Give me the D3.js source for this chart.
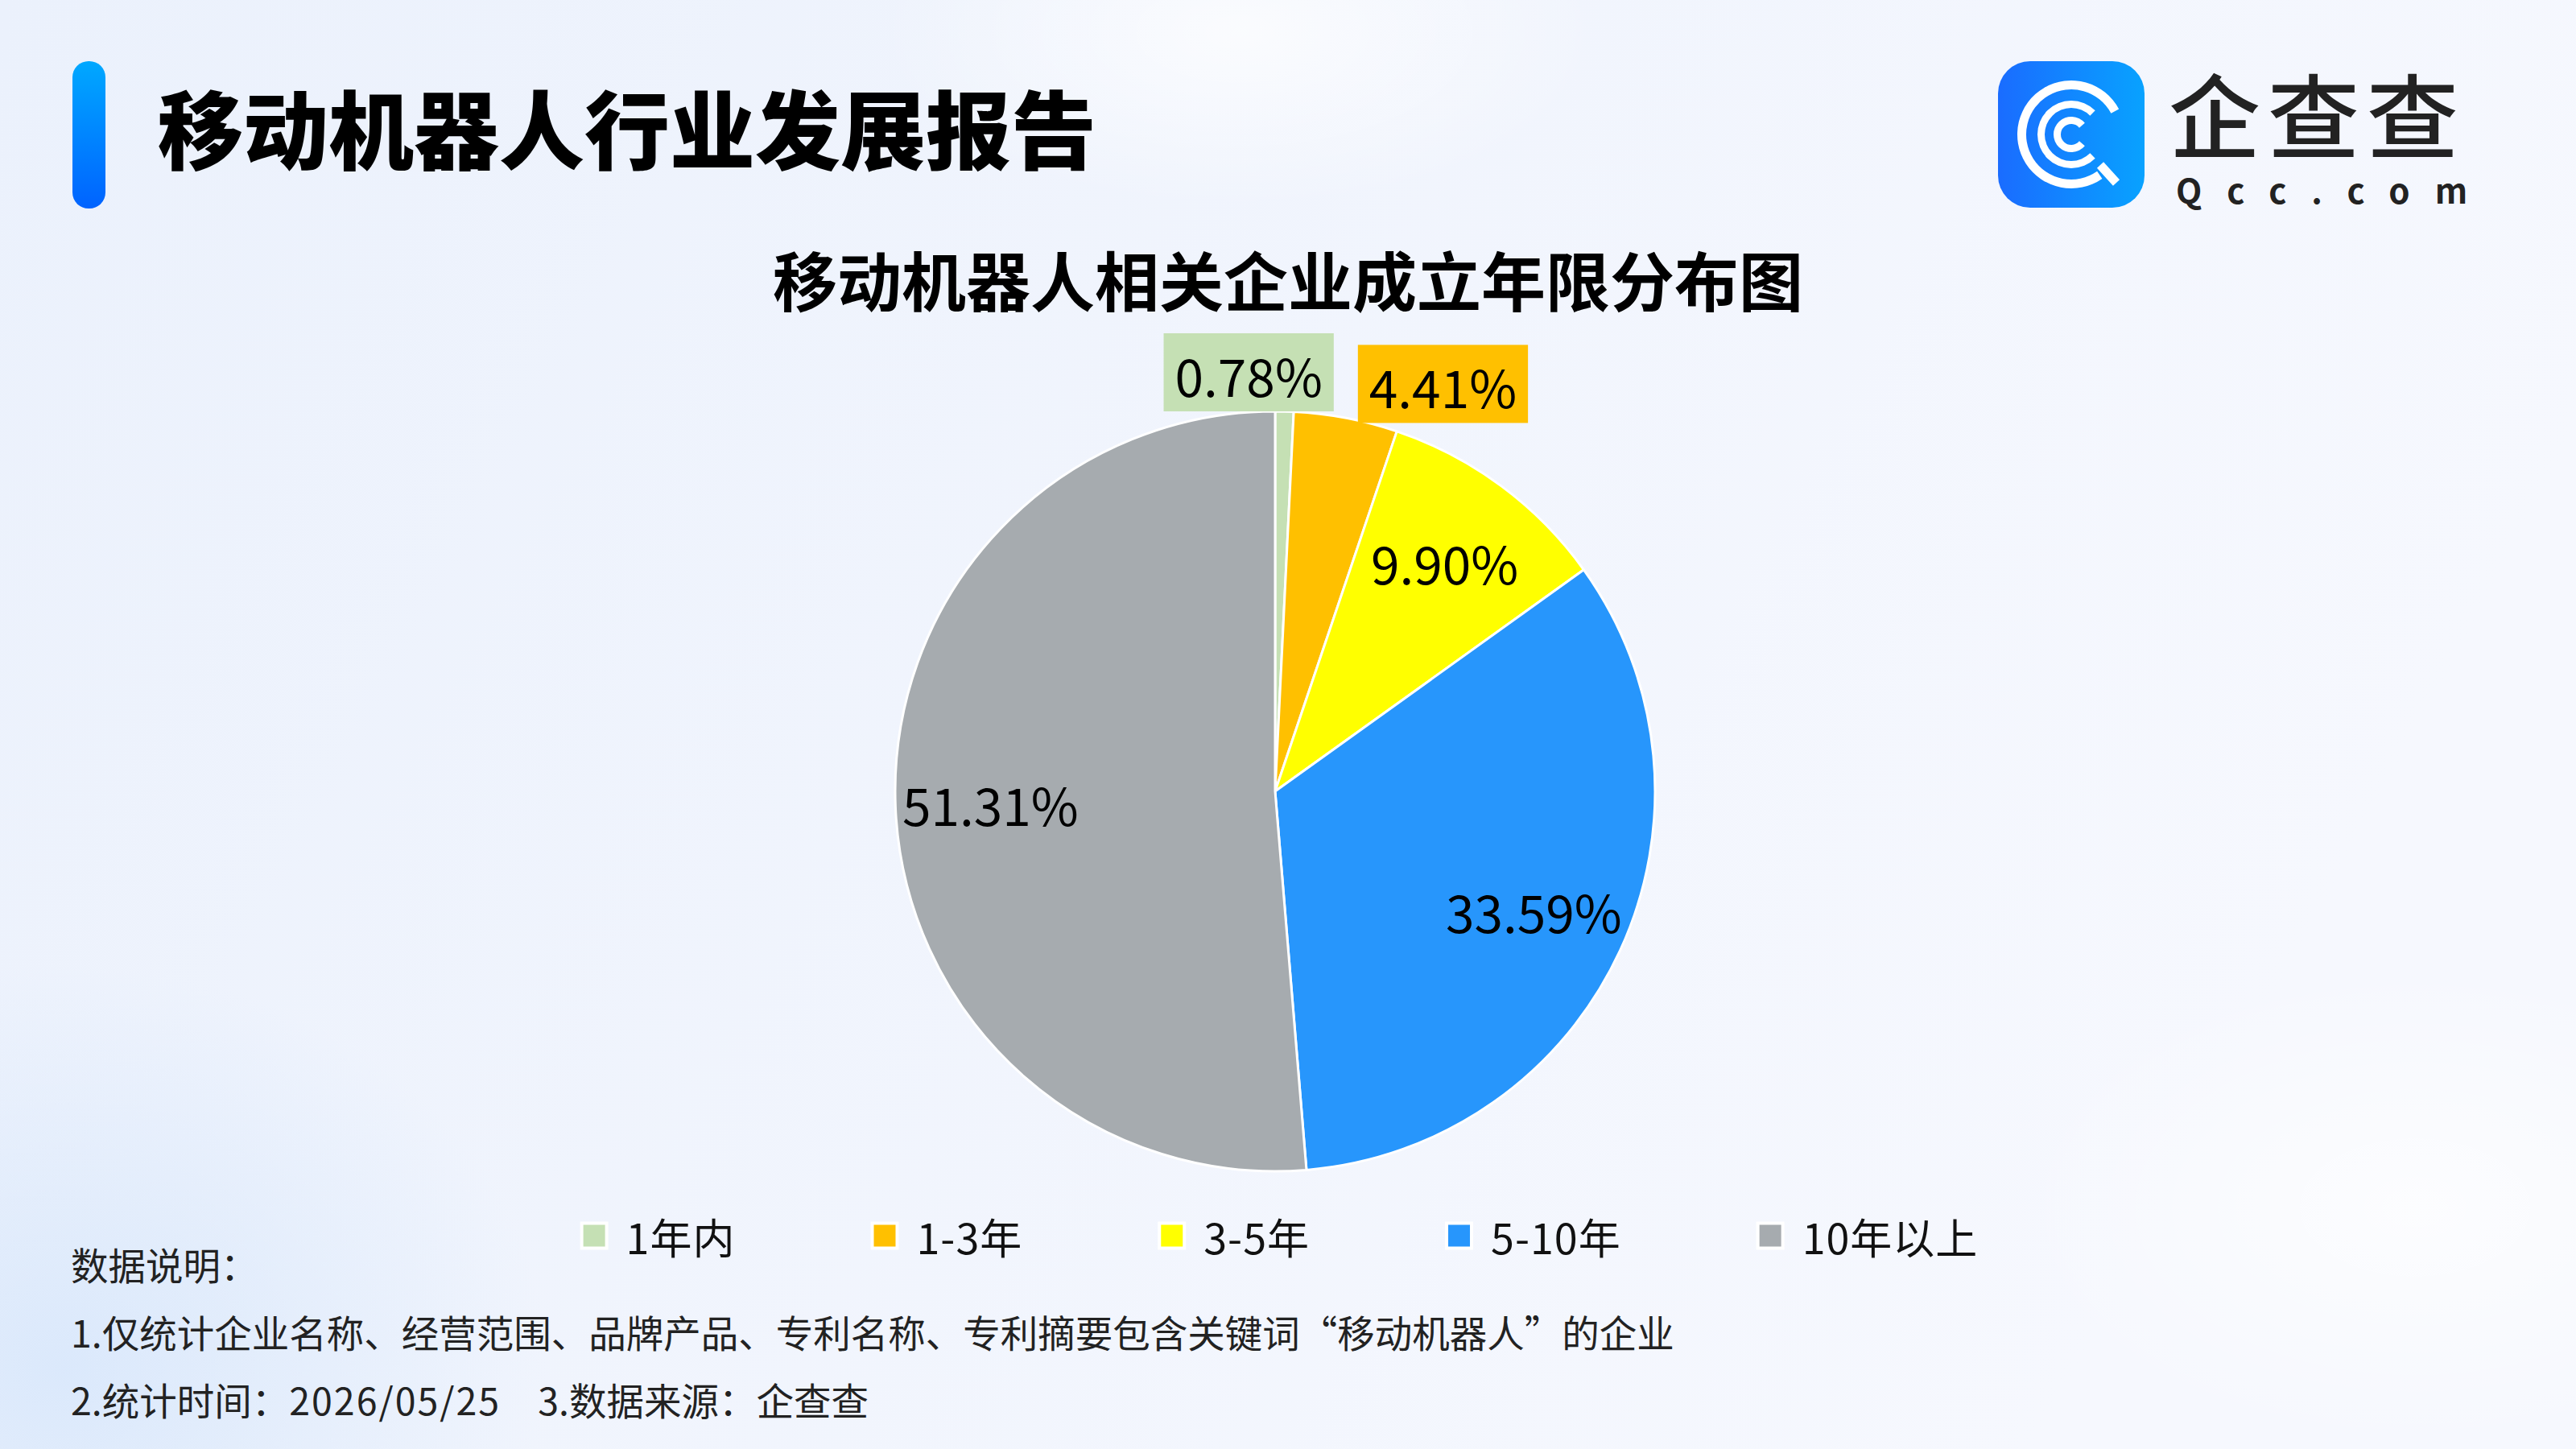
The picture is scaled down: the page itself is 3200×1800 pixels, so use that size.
<!DOCTYPE html>
<html>
<head>
<meta charset="utf-8">
<title>移动机器人相关企业成立年限分布图</title>
<script src="https://d3js.org/d3.v7.min.js"></script>
<style>
  html, body { margin: 0; padding: 0; }
  body { width: 3200px; height: 1800px; overflow: hidden; }
  text { font-family: "Noto Sans CJK SC", "Noto Sans", sans-serif; }
</style>
</head>
<body>
<div id="chart"></div>
<script>
// 数据
const categories = ["1年内", "1-3年", "3-5年", "5-10年", "10年以上"];
const shares = [0.78, 4.41, 9.90, 33.59, 51.31];
const colors = ["#c5e0b4", "#ffc000", "#ffff00", "#2796fc", "#a6abaf"];
const notes = [
  "数据说明：",
  "1.仅统计企业名称、经营范围、品牌产品、专利名称、专利摘要包含关键词“移动机器人”的企业"
];
const footDateLabel = "2.统计时间：";
const footDate = "2026/05/25";
const footSource = "3.数据来源：企查查";

const W = 3200, H = 1800;
const svg = d3.select("#chart").append("svg")
  .attr("width", W).attr("height", H);

// 背景
const defs = svg.append("defs");
const bg = defs.append("linearGradient").attr("id", "bg")
  .attr("x1", 0).attr("y1", 0).attr("x2", 1).attr("y2", 0.3);
bg.append("stop").attr("offset", 0).attr("stop-color", "#ebf1fc");
bg.append("stop").attr("offset", 1).attr("stop-color", "#f6f8fe");
const blob = defs.append("radialGradient").attr("id", "blob");
blob.append("stop").attr("offset", 0).attr("stop-color", "#ffffff").attr("stop-opacity", 0.7);
blob.append("stop").attr("offset", 1).attr("stop-color", "#ffffff").attr("stop-opacity", 0);
const blueBlob = defs.append("radialGradient").attr("id", "blueBlob");
blueBlob.append("stop").attr("offset", 0).attr("stop-color", "#d6e6fb").attr("stop-opacity", 0.8);
blueBlob.append("stop").attr("offset", 1).attr("stop-color", "#d6e6fb").attr("stop-opacity", 0);

svg.append("rect").attr("width", W).attr("height", H).attr("fill", "url(#bg)");
svg.append("ellipse").attr("cx", 1540).attr("cy", 40).attr("rx", 450).attr("ry", 220).attr("fill", "url(#blob)");
svg.append("ellipse").attr("cx", 80).attr("cy", 1700).attr("rx", 600).attr("ry", 500).attr("fill", "url(#blueBlob)");
svg.append("ellipse").attr("cx", 3000).attr("cy", 1500).attr("rx", 500).attr("ry", 300).attr("fill", "url(#blob)");

// 标题
const bar = defs.append("linearGradient").attr("id", "bar")
  .attr("x1", 0).attr("y1", 0).attr("x2", 0).attr("y2", 1);
bar.append("stop").attr("offset", 0).attr("stop-color", "#00a8ff");
bar.append("stop").attr("offset", 1).attr("stop-color", "#0063ff");
svg.append("rect").attr("x", 90).attr("y", 76).attr("width", 41).attr("height", 183)
  .attr("rx", 20).attr("fill", "url(#bar)");

svg.append("text")
  .attr("x", 196).attr("y", 156)
  .attr("dominant-baseline", "central")
  .attr("font-size", 106).attr("font-weight", 900)
  .attr("fill", "#000")
  .text("移动机器人行业发展报告");

// logo
const logo = svg.append("g");
const lg = defs.append("linearGradient").attr("id", "logoGrad")
  .attr("x1", 0).attr("y1", 0).attr("x2", 1).attr("y2", 0);
lg.append("stop").attr("offset", 0).attr("stop-color", "#1a6cff");
lg.append("stop").attr("offset", 1).attr("stop-color", "#08a2ff");
logo.append("rect").attr("x", 2482).attr("y", 76).attr("width", 182).attr("height", 182)
  .attr("rx", 40).attr("fill", "url(#logoGrad)");
const lcx = 2573, lcy = 167;
const ring = d3.arc();
const deg = Math.PI / 180;
// d3.arc 角度从 12 点钟方向顺时针
logo.append("path").attr("transform", `translate(${lcx},${lcy})`)
  .attr("d", ring({innerRadius: 56, outerRadius: 67, startAngle: 145 * deg, endAngle: 422 * deg, cornerRadius: 2}))
  .attr("fill", "#fff");
logo.append("path").attr("transform", `translate(${lcx},${lcy})`)
  .attr("d", ring({innerRadius: 33, outerRadius: 42, startAngle: 135 * deg, endAngle: 405 * deg, cornerRadius: 2}))
  .attr("fill", "#fff");
logo.append("path").attr("transform", `translate(${lcx},${lcy})`)
  .attr("d", ring({innerRadius: 13, outerRadius: 22, startAngle: 130 * deg, endAngle: 410 * deg, cornerRadius: 2}))
  .attr("fill", "#fff");
logo.append("line")
  .attr("x1", lcx + 36).attr("y1", lcy + 38).attr("x2", lcx + 56).attr("y2", lcy + 60)
  .attr("stroke", "#fff").attr("stroke-width", 11);

logo.append("text").attr("x", 2694).attr("y", 138)
  .attr("dominant-baseline", "central")
  .attr("font-size", 114).attr("font-weight", 500).attr("fill", "#222")
  .attr("letter-spacing", 9)
  .text("企查查");
logo.append("text").attr("x", 2703).attr("y", 234)
  .attr("dominant-baseline", "central")
  .attr("font-family", "'DejaVu Sans', sans-serif")
  .attr("font-size", 42).attr("font-weight", 700).attr("fill", "#222")
  .attr("letter-spacing", 31)
  .text("Qcc.com");

// 图表标题
svg.append("text")
  .attr("x", 1600).attr("y", 345)
  .attr("text-anchor", "middle").attr("dominant-baseline", "central")
  .attr("font-size", 80).attr("font-weight", 700).attr("fill", "#000")
  .text("移动机器人相关企业成立年限分布图");

// 饼图
const cx = 1584, cy = 983, R = 472;
const rows = categories.map((c, i) => ({name: c, value: shares[i], color: colors[i]}));
const pie = d3.pie().sort(null).value(d => d.value);
const arcs = pie(rows);
const arc = d3.arc().innerRadius(0).outerRadius(R);
const labelArc = d3.arc().innerRadius(R * 0.75).outerRadius(R * 0.75);
const outerArc = d3.arc().innerRadius(R * 1.1).outerRadius(R * 1.1);

const g = svg.append("g").attr("transform", `translate(${cx},${cy})`);
g.selectAll("path.slice")
  .data(arcs)
  .enter()
  .append("path")
  .attr("class", "slice")
  .attr("d", arc)
  .attr("fill", d => d.data.color)
  .attr("stroke", "#fff")
  .attr("stroke-width", 3)
  .attr("stroke-linejoin", "round");

const labelSize = 64;
const fmt = v => v.toFixed(2) + "%";
const inside = arcs.filter(d => d.data.value >= 5);
const outside = arcs.filter(d => d.data.value < 5);

g.selectAll("text.inlabel")
  .data(inside)
  .enter()
  .append("text")
  .attr("class", "inlabel")
  .attr("transform", d => `translate(${labelArc.centroid(d)})`)
  .attr("text-anchor", "middle").attr("dominant-baseline", "central")
  .attr("font-size", labelSize).attr("fill", "#000")
  .text(d => fmt(d.data.value));

// 外部标签：带底色，从后往前排，避免重叠
const padX = 14, boxH = 97, gapX = 30;
let nextLeft = Infinity;
outside.slice().reverse().forEach(d => {
  const p = outerArc.centroid(d);
  const first = nextLeft === Infinity;
  const lab = g.append("g");
  const t = lab.append("text")
    .attr("text-anchor", "start").attr("dominant-baseline", "central")
    .attr("font-size", labelSize).attr("fill", "#000")
    .text(fmt(d.data.value));
  const tw = t.node().getComputedTextLength();
  const bw = tw + padX * 2;
  let left = first ? p[0] + 6 : p[0] - bw / 2;
  if (left + bw > nextLeft - gapX) left = nextLeft - gapX - bw;
  const top = first ? p[1] - boxH / 2 + 4 : Math.min(p[1] - boxH / 2, -R - boxH);
  lab.insert("rect", "text")
    .attr("x", left).attr("y", top)
    .attr("width", bw).attr("height", boxH)
    .attr("fill", d.data.color);
  t.attr("x", left + padX).attr("y", top + boxH / 2 + 2);
  nextLeft = left;
});

// 图例
const legend = svg.append("g");
const legendY = 1535, itemGap = 170, swatch = 31, textGap = 24;
let lx = 0;
rows.forEach(r => {
  const it = legend.append("g");
  it.append("rect")
    .attr("x", 0).attr("y", -swatch / 2).attr("width", swatch).attr("height", swatch)
    .attr("fill", r.color).attr("stroke", "#fff").attr("stroke-width", 4);
  const t = it.append("text")
    .attr("x", swatch + textGap).attr("y", 0)
    .attr("dominant-baseline", "central")
    .attr("font-size", 52).attr("letter-spacing", 1).attr("fill", "#111")
    .text(r.name);
  const w = swatch + textGap + t.node().getComputedTextLength();
  it.attr("transform", `translate(${lx},${legendY})`);
  lx += w + itemGap;
});
const totalW = lx - itemGap;
legend.attr("transform", `translate(${1590 - totalW / 2},0)`);

// 数据说明
const foot = svg.append("g").attr("font-size", 46.5).attr("fill", "#222");
foot.selectAll("text.note")
  .data(notes)
  .enter()
  .append("text")
  .attr("class", "note")
  .attr("x", 88)
  .attr("y", (d, i) => 1569 + i * 84)
  .attr("dominant-baseline", "central")
  .text(d => d);
const last = foot.append("text")
  .attr("x", 88).attr("y", 1569 + 2 * 84)
  .attr("dominant-baseline", "central");
last.append("tspan").text(footDateLabel);
last.append("tspan").attr("letter-spacing", 2).text(footDate);
last.append("tspan").attr("dx", 46).text(footSource);
</script>
</body>
</html>
